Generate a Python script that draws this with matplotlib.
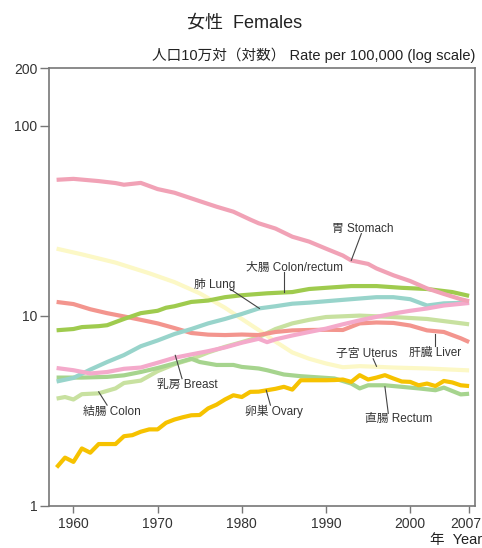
import matplotlib
matplotlib.use("Agg")
import matplotlib.pyplot as plt
import matplotlib.transforms as mtransforms
from matplotlib.ticker import FixedLocator, NullLocator

plt.rcParams['font.family'] = ['Liberation Sans', 'Noto Sans CJK JP']

# age-adjusted cancer mortality, females
stomach_years = [1958, 1960, 1963, 1965, 1966, 1968, 1970, 1972, 1975, 1977, 1979, 1981, 1982,
                 1984, 1986, 1988, 1990, 1992, 1993, 1995, 1996, 1998, 2000, 2002, 2004, 2006, 2007]
stomach = [51.8, 52.4, 51.0, 49.8, 48.8, 49.9, 46.3, 44.3, 40.0, 37.4, 35.2, 32.0, 30.6,
           28.7, 26.0, 24.5, 22.5, 20.7, 19.5, 18.7, 17.7, 16.3, 15.2, 13.9, 13.0, 12.2, 11.9]

uterus_years = [1958, 1961, 1965, 1969, 1972, 1975, 1978, 1980, 1982, 1984, 1986, 1988, 1990,
                1992, 1994, 1996, 1998, 2002, 2007]
uterus = [22.5, 21.0, 19.0, 16.7, 15.0, 13.1, 11.0, 9.6, 8.4, 7.3, 6.4, 5.93, 5.6,
          5.35, 5.42, 5.38, 5.33, 5.27, 5.15]

colorectum_years = [1958, 1960, 1961, 1963, 1964, 1966, 1968, 1970, 1971, 1972, 1974, 1976, 1978,
                    1980, 1983, 1986, 1988, 1990, 1993, 1996, 1999, 2002, 2005, 2007]
colorectum = [8.37, 8.5, 8.7, 8.8, 8.9, 9.6, 10.3, 10.6, 11.0, 11.2, 11.8, 12.0, 12.5,
              12.8, 13.1, 13.3, 13.8, 14.0, 14.3, 14.3, 14.0, 13.8, 13.3, 12.7]

lung_years = [1958, 1960, 1962, 1964, 1966, 1968, 1970, 1972, 1974, 1976, 1978, 1980, 1982,
              1984, 1986, 1988, 1990, 1992, 1994, 1996, 1998, 2000, 2002, 2004, 2007]
lung = [4.5, 4.7, 5.2, 5.7, 6.2, 6.9, 7.4, 8.0, 8.5, 9.1, 9.6, 10.2, 10.9,
        11.2, 11.55, 11.7, 11.9, 12.1, 12.3, 12.5, 12.5, 12.2, 11.3, 11.6, 11.7]

breast_years = [1958, 1960, 1962, 1964, 1966, 1968, 1970, 1972, 1974, 1976, 1978, 1980, 1982,
                1983, 1984, 1986, 1988, 1990, 1992, 1994, 1996, 1998, 2000, 2002, 2004, 2007]
breast = [5.3, 5.16, 4.96, 5.05, 5.25, 5.33, 5.65, 6.0, 6.25, 6.5, 6.8, 7.2, 7.55,
          7.25, 7.5, 7.86, 8.2, 8.54, 9.0, 9.44, 9.85, 10.25, 10.6, 10.9, 11.3, 11.65]

liver_years = [1958, 1960, 1962, 1964, 1966, 1968, 1970, 1972, 1974, 1976, 1978, 1980, 1982,
               1984, 1986, 1988, 1990, 1992, 1994, 1996, 1998, 2000, 2002, 2004, 2006, 2007]
liver = [11.8, 11.5, 10.8, 10.3, 9.9, 9.5, 9.1, 8.6, 8.1, 7.94, 7.9, 7.95, 7.9,
         8.2, 8.36, 8.4, 8.42, 8.4, 9.1, 9.2, 9.15, 8.87, 8.36, 8.2, 7.6, 7.26]

colon_years = [1958, 1959, 1960, 1961, 1963, 1965, 1966, 1968, 1970, 1972, 1974, 1976, 1978,
               1980, 1982, 1984, 1986, 1988, 1990, 1994, 1998, 2002, 2007]
colon = [3.66, 3.73, 3.62, 3.86, 3.9, 4.14, 4.42, 4.55, 5.1, 5.55, 5.9, 6.4, 6.85,
         7.25, 7.7, 8.5, 9.1, 9.5, 9.83, 10.0, 9.83, 9.6, 9.0]

rectum_years = [1958, 1961, 1964, 1966, 1968, 1970, 1972, 1974, 1975, 1977, 1979, 1980, 1982,
                1983, 1985, 1987, 1991, 1993, 1994, 1995, 1997, 1999, 2001, 2003, 2004, 2006, 2007]
rectum = [4.72, 4.72, 4.76, 4.85, 5.05, 5.3, 5.6, 5.93, 5.7, 5.5, 5.5, 5.37, 5.27,
          5.16, 4.9, 4.8, 4.67, 4.39, 4.14, 4.3, 4.3, 4.22, 4.14, 4.05, 4.18, 3.85, 3.88]

ovary_years = list(range(1958, 2008))
ovary = [1.59, 1.79, 1.70, 2.0, 1.90, 2.11, 2.11, 2.11, 2.32, 2.35,
         2.45, 2.52, 2.52, 2.73, 2.84, 2.92, 2.99, 3.0, 3.25, 3.4,
         3.62, 3.81, 3.73, 3.97, 3.98, 4.05, 4.12, 4.22, 4.08, 4.57,
         4.57, 4.57, 4.57, 4.58, 4.61, 4.48, 4.86, 4.61, 4.72, 4.86,
         4.67, 4.5, 4.48, 4.30, 4.39, 4.26, 4.53, 4.45, 4.3, 4.26]

# label text, text position, leader start, leader end
labels = [
    ("胃 Stomach", (1994.4, 28.5), (1994.2, 27.0), (1993.0, 19.5)),
    ("大腸 Colon/rectum", (1986.2, 17.8), (1985.0, 16.9), (1985.0, 13.3)),
    ("肺 Lung", (1976.8, 14.6), (1978.6, 13.8), (1982.1, 10.9)),
    ("乳房 Breast", (1973.5, 4.3), (1972.9, 4.66), (1972.1, 6.18)),
    ("結腸 Colon", (1964.6, 3.12), (1964.0, 3.38), (1963.0, 3.97)),
    ("卵巣 Ovary", (1983.8, 3.15), (1983.4, 3.38), (1982.9, 4.05)),
    ("子宮 Uterus", (1994.8, 6.3), (1995.6, 5.93), (1996.0, 5.41)),
    ("肝臓 Liver", (2003.0, 6.35), (2002.9, 6.96), (2002.9, 8.05)),
    ("直腸 Rectum", (1998.6, 2.85), (1997.4, 3.06), (1997.0, 4.22)),
]

fig = plt.figure(figsize=(4.82, 5.48), dpi=100)
ax = fig.add_axes([0.1017, 0.0772, 0.8838, 0.7982])

lw = 3.0
ax.plot(uterus_years, uterus, color='#fcf8c6', lw=lw, solid_capstyle='butt')
ax.plot(colon_years, colon, color='#c8e1a0', lw=lw, solid_capstyle='butt')
ax.plot(rectum_years, rectum, color='#a6d48e', lw=lw, solid_capstyle='butt')
ax.plot(liver_years, liver, color='#f3958e', lw=lw, solid_capstyle='butt')
ax.plot(lung_years, lung, color='#98d4cb', lw=lw, solid_capstyle='butt')
ax.plot(breast_years, breast, color='#f4aacb', lw=lw, solid_capstyle='butt')
ax.plot(colorectum_years, colorectum, color='#9fcb4e', lw=lw, solid_capstyle='butt')
ax.plot(stomach_years, stomach, color='#f1a2b6', lw=lw, solid_capstyle='butt')
ax.plot(ovary_years, ovary, color='#f6c200', lw=lw, solid_capstyle='butt')

for text, pos, p0, p1 in labels:
    ax.text(pos[0], pos[1], text, fontsize=8.5, color='#333333', ha='center', va='center')
    ax.plot([p0[0], p1[0]], [p0[1], p1[1]], color='#444444', lw=0.8)

ax.set_yscale('log')
ax.set_ylim(1, 200)
ax.set_xlim(1957.1, 2007.7)
ax.yaxis.set_major_locator(FixedLocator([1, 10, 100, 200]))
ax.yaxis.set_minor_locator(NullLocator())
ax.set_yticklabels(['1', '10', '100', '200'])
ax.set_xticks([1960, 1970, 1980, 1990, 2000, 2007])
ax.set_xticklabels(['1960', '1970', '1980', '1990', '2000', '2007'])
ax.tick_params(axis='y', length=6.5, width=1, color='#777777', labelsize=10, labelcolor='#333333', pad=2)
ax.tick_params(axis='x', length=5, width=1, color='#777777', labelsize=10, labelcolor='#333333', pad=3)
for s in ax.spines.values():
    s.set_color('#777777')
    s.set_linewidth(1.2)

# keep the last year label inside the canvas
last = ax.get_xticklabels()[-1]
last.set_transform(last.get_transform() + mtransforms.ScaledTranslation(-3 / 100, 0, fig.dpi_scale_trans))

fig.text(0.508, 0.958, '女性  Females', fontsize=13, ha='center', va='center', color='#222222')
fig.text(0.986, 0.899, '人口10万対（対数） Rate per 100,000 (log scale)', fontsize=10.5,
         ha='right', va='center', color='#222222')
fig.text(0.892, 0.015, '年  Year', fontsize=10.5, ha='left', va='center', color='#222222')

fig.savefig('out.png', dpi=100)
